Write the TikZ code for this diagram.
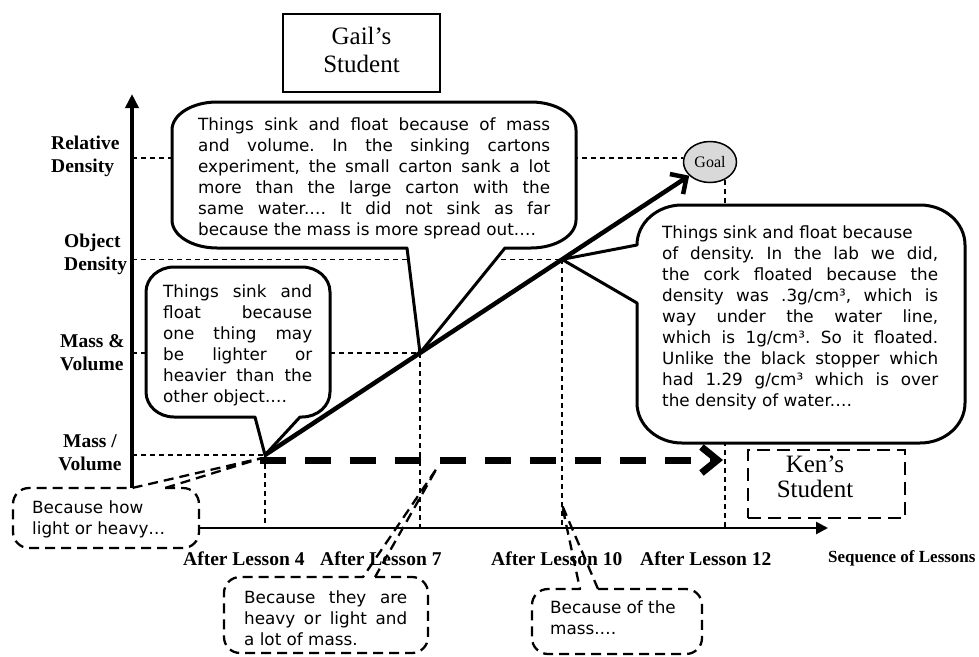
\documentclass[tikz,border=0pt]{standalone}
\usepackage{fontspec}
\setmainfont{Liberation Serif}
\newfontfamily\vfont{DejaVu Sans}
\usetikzlibrary{arrows.meta,shapes.geometric}
\newcommand\ctext[2]{\parbox[t]{#1}{\vfont\fontsize{16.8}{21}\selectfont\frenchspacing #2}}
\newcommand\jline[1]{\makebox[\linewidth][s]{#1}\\}
\begin{document}
\begin{tikzpicture}[x=1pt,y=-1pt,
  guide/.style={line width=1.2pt, dash pattern=on 5pt off 4pt},
  solidcall/.style={draw, line width=3pt, fill=white, line join=round},
  dashcall/.style={draw, line width=2.3pt, dash pattern=on 10pt off 6pt, line join=round},
  lbl/.style={inner sep=0pt, anchor=base west, font=\bfseries\fontsize{19.5}{23}\selectfont},
  ctxt/.style={inner sep=0pt, anchor=base west}]
\fill[white] (0,0) rectangle (979,656);
\useasboundingbox (0,0) rectangle (979,656);

% key points
\coordinate (o) at (132,528);
\coordinate (ytop) at (132,94);
\coordinate (xend) at (828,528);
\coordinate (rel) at (132,158);
\coordinate (p1) at (265,455);
\coordinate (p2) at (420,352.9);
\coordinate (p3) at (562,259.4);
\coordinate (t4) at (262,458);
\coordinate (t5) at (437,468);
\coordinate (t6) at (562,505);
\coordinate (ds) at (260,460);
\coordinate (de) at (723,460);

% axes
\draw[line width=3.5pt, -{Triangle[length=14pt,width=13pt]}] (o) -- (ytop);
\draw[line width=2.5pt, -{Triangle[length=12pt,width=12pt]}] (o) -- (xend);

% goal
\node[ellipse, draw, line width=1.5pt, fill=black!15, minimum width=53pt, minimum height=41pt, inner sep=0pt, font=\fontsize{16}{18}\selectfont] (goal) at (710,162) {Goal};

% guide lines
\draw[guide] (rel) -- (rel -| goal.west);
\draw[guide] (o |- p3) -- (p3);
\draw[guide] (o |- p2) -- (p2);
\draw[guide] (o |- p1) -- (p1);
\draw[guide] (p1) -- (p1 |- o);
\draw[guide] (p2) -- (p2 |- o);
\draw[guide] (p3) -- (p3 |- o);
\draw[guide] (goal.-50) -- (goal.-50 |- o);

% axis labels
\node[lbl] (lrd) at (51,149) {\begin{tabular}[t]{@{}l@{}}Relative\\Density\end{tabular}};
\node[lbl] (lod) at (64,247) {\begin{tabular}[t]{@{}l@{}}Object\\Density\end{tabular}};
\node[lbl] (lmv) at (60,347) {\begin{tabular}[t]{@{}l@{}}Mass \&\\Volume\end{tabular}};
\node[lbl, anchor=base] (lmpv) at (90,447) {\begin{tabular}[t]{@{}c@{}}Mass /\\Volume\end{tabular}};
\node[lbl] (a4) at (183,565) {After Lesson 4};
\node[lbl] (a7) at (320,565) {After Lesson 7};
\node[lbl] (a10) at (491,565) {After Lesson 10};
\node[lbl] (a12) at (640,565) {After Lesson 12};
\node[inner sep=0pt, anchor=base west, font=\bfseries\fontsize{17}{20}\selectfont] (seq) at (828,562) {Sequence of Lessons};

% student boxes
\node[draw, line width=2.8pt, minimum width=157pt, minimum height=78pt, inner sep=0pt, font=\fontsize{25}{28}\selectfont] (gail) at (361.5,53) {\begin{tabular}{@{}c@{}}Gail’s\\Student\end{tabular}};
\node[draw, line width=2.5pt, dash pattern=on 13pt off 7pt, minimum width=157pt, minimum height=68pt] (ken) at (826.5,484) {};
\node[inner sep=0pt, anchor=base, font=\fontsize{25}{25.5}\selectfont] (kent) at (815,472) {\begin{tabular}[t]{@{}c@{}}Ken’s\\Student\end{tabular}};

% callout A
\draw[solidcall] (p2) -- (505,248) -- (531,248) arc[start angle=90,end angle=0,x radius=45,y radius=28] -- (576,130) arc[start angle=0,end angle=-90,x radius=45,y radius=28] -- (217,102) arc[start angle=-90,end angle=-180,x radius=45,y radius=28] -- (172,220) arc[start angle=180,end angle=90,x radius=45,y radius=28] -- (407,248) -- cycle;
\node[ctxt] (tA) at (198,130) {\ctext{352pt}{\jline{Things sink and float because of mass}\jline{and volume. In the sinking cartons}\jline{experiment, the small carton sank a lot}\jline{more than the large carton with the}\jline{same water.… It did not sink as far}because the mass is more spread out.…}};

% callout B
\draw[solidcall] (p1) -- (300,417) -- (302,417) arc[start angle=90,end angle=0,x radius=28,y radius=25] -- (330,292) arc[start angle=0,end angle=-90,x radius=28,y radius=25] -- (174,267) arc[start angle=-90,end angle=-180,x radius=28,y radius=25] -- (146,392) arc[start angle=180,end angle=90,x radius=28,y radius=25] -- (255,417) -- cycle;
\node[ctxt] (tB) at (163,297) {\ctext{149pt}{\jline{Things sink and}\jline{float because}\jline{one thing may}\jline{be lighter or}\jline{heavier than the}other object.…}};

% callout C
\draw[solidcall] (p3) -- (637,245) arc[start angle=180,end angle=270,x radius=45,y radius=40] -- (920,205) arc[start angle=-90,end angle=0,x radius=45,y radius=40] -- (965,403) arc[start angle=0,end angle=90,x radius=45,y radius=40] -- (682,443) arc[start angle=90,end angle=180,x radius=45,y radius=40] -- (637,303) -- cycle;
\node[ctxt] (tC) at (662,238) {\ctext{276pt}{Things sink and float because\\\jline{of density. In the lab we did,}\jline{the cork floated because the}\jline{density was .3g/cm³, which is}\jline{way under the water line,}\jline{which is 1g/cm³. So it floated.}\jline{Unlike the black stopper which}\jline{had 1.29 g/cm³ which is over}the density of water.…}};

% progress arrows
\draw[line width=7pt, dash pattern=on 26pt off 19pt, -{Straight Barb[length=16pt,width=26pt]}] (ds) -- (de);
\draw[line width=4.5pt, -{Straight Barb[length=12pt,width=24pt]}] (p1) -- (goal);

% dashed callout 4
\fill[white, rounded corners=16pt] (13,488) rectangle (199,548);
\draw[dashcall] (165,488) -- (183,488) arc[start angle=-90,end angle=0,radius=16] -- (199,532) arc[start angle=0,end angle=90,radius=16] -- (29,548) arc[start angle=90,end angle=180,radius=16] -- (13,504) arc[start angle=180,end angle=270,radius=16] -- (132,488) -- (t4) -- cycle;
\node[ctxt] (t4t) at (32,513) {\ctext{160pt}{Because how\\light or heavy…}};

% dashed callout 5
\fill[white, rounded corners=16pt] (224,577) rectangle (428,653);
\draw[dashcall] (375,577) -- (412,577) arc[start angle=-90,end angle=0,radius=16] -- (428,637) arc[start angle=0,end angle=90,radius=16] -- (240,653) arc[start angle=90,end angle=180,radius=16] -- (224,593) arc[start angle=180,end angle=270,radius=16] -- (363,577) -- (t5) -- cycle;
\node[ctxt] (t5t) at (244,603) {\ctext{163pt}{\jline{Because they are}\jline{heavy or light and}a lot of mass.}};

% dashed callout 6
\fill[white, rounded corners=16pt] (532,589) rectangle (702,654);
\draw[dashcall] (598,589) -- (686,589) arc[start angle=-90,end angle=0,radius=16] -- (702,638) arc[start angle=0,end angle=90,radius=16] -- (548,654) arc[start angle=90,end angle=180,radius=16] -- (532,605) arc[start angle=180,end angle=270,radius=16] -- (580,589) -- (t6) -- cycle;
\node[ctxt] (t6t) at (550,613) {\ctext{140pt}{Because of the\\mass.…}};
\end{tikzpicture}
\end{document}
